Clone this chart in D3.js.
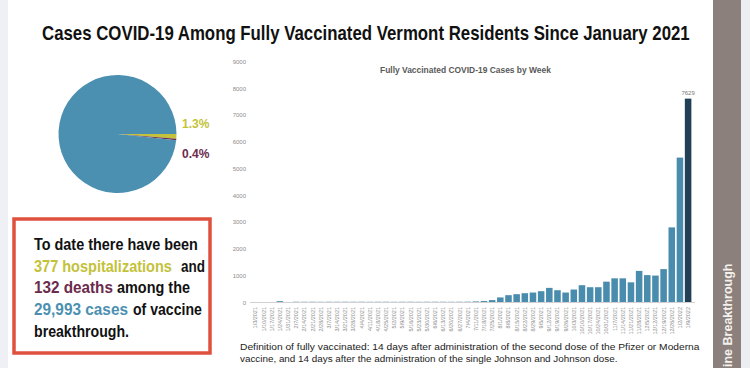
<!DOCTYPE html>
<html>
<head>
<meta charset="utf-8">
<script src="https://d3js.org/d3.v7.min.js"></script>
<style>
  body { margin: 0; background: #fff; }
  svg { display: block; font-family: "Liberation Sans", Arial, sans-serif; }
</style>
</head>
<body>
<svg id="chart" width="750" height="368"></svg>
<script>
// week starting dates (x categories)
const weeks = ["1/3/2021","1/10/2021","1/17/2021","1/24/2021","1/31/2021","2/7/2021","2/14/2021","2/21/2021",
  "2/28/2021","3/7/2021","3/14/2021","3/21/2021","3/28/2021","4/4/2021","4/11/2021","4/18/2021","4/25/2021",
  "5/2/2021","5/9/2021","5/16/2021","5/23/2021","5/30/2021","6/6/2021","6/13/2021","6/20/2021","6/27/2021",
  "7/4/2021","7/11/2021","7/18/2021","7/25/2021","8/1/2021","8/8/2021","8/15/2021","8/22/2021","8/29/2021",
  "9/5/2021","9/12/2021","9/19/2021","9/26/2021","10/3/2021","10/10/2021","10/17/2021","10/24/2021",
  "10/31/2021","11/7/2021","11/14/2021","11/21/2021","11/28/2021","12/5/2021","12/12/2021","12/19/2021",
  "12/26/2021","1/2/2022","1/9/2022"];
// weekly cases among fully vaccinated
const cases = [2, 3, 4, 50, 3, 28, 27, 28, 26, 28, 27, 28, 27, 28, 26, 27, 28, 26, 27, 28, 26, 27, 28, 27, 26, 28,
  30, 40, 55, 90, 190, 274, 311, 348, 373, 423, 547, 460, 373, 485, 647, 572, 572, 780, 905, 905, 755, 1182,
  1025, 1007, 1250, 2811, 5423, 7629];
const yTicks = [0, 1000, 2000, 3000, 4000, 5000, 6000, 7000, 8000, 9000];

// pie: hospitalizations, deaths, rest of the breakthrough cases
const pieLabels = ["hospitalizations", "deaths", "other"];
const pieValues = [377, 132, 29484];
const pieText = ["1.3%", "0.4%"];

const blue = "#4b90b0", yellow = "#c3c23a", maroon = "#6b2b4c";

const svg = d3.select("#chart");

// squeeze a text horizontally to a given width (the original uses a condensed face)
function fitText(x, y, width, str, size, weight, fill) {
  const g = svg.append("g");
  const t = g.append("text")
    .attr("font-size", size).attr("font-weight", weight).attr("fill", fill)
    .text(str);
  const w = t.node().getComputedTextLength();
  g.attr("transform", `translate(${x},${y}) scale(${width / w},1)`);
  return t;
}

// page edges and the side tab
svg.append("rect").attr("x", 0).attr("y", 0).attr("width", 8).attr("height", 368).attr("fill", "#eef0f5");
svg.append("rect").attr("x", 741).attr("y", 0).attr("width", 9).attr("height", 368).attr("fill", "#eceef2");
svg.append("rect").attr("x", 713).attr("y", 0).attr("width", 28).attr("height", 368).attr("fill", "#8b807b");
svg.append("text")
  .attr("transform", "translate(731.5,367) rotate(-90)")
  .attr("font-size", 12.5).attr("font-weight", "bold").attr("fill", "#f4f1ee")
  .text("ine Breakthrough");

// title
fitText(42, 40, 648, "Cases COVID-19 Among Fully Vaccinated Vermont Residents Since January 2021", 20, "bold", "#111");

// ---- pie
const pie = d3.pie().sort(null).startAngle(Math.PI / 2).endAngle(Math.PI / 2 + 2 * Math.PI);
const arc = d3.arc().innerRadius(0).outerRadius(59);
const pieG = svg.append("g").attr("transform", "translate(117.5,134)");
pieG.selectAll("path")
  .data(pie(pieValues))
  .enter()
  .append("path")
  .attr("d", arc)
  .attr("fill", (d, i) => [yellow, maroon, blue][i]);

svg.selectAll(".pielab")
  .data(pieText)
  .enter()
  .append("text")
  .attr("class", "pielab")
  .attr("x", 182)
  .attr("y", (d, i) => [128, 158][i])
  .attr("font-size", 12).attr("font-weight", "bold")
  .attr("fill", (d, i) => [yellow, maroon][i])
  .text(d => d);

// ---- text box
svg.append("rect")
  .attr("x", 14).attr("y", 219).attr("width", 196).attr("height", 134)
  .attr("fill", "#fff").attr("stroke", "#e0503f").attr("stroke-width", 3.5);

// [text, colour, x, width]
const boxLines = [
  [["To date there have been", "#111", 34, 164]],
  [["377 hospitalizations", yellow, 34, 138], ["and", "#111", 181, 24]],
  [["132 deaths", maroon, 34, 79], ["among the", "#111", 117, 73]],
  [["29,993 cases", blue, 34, 94], ["of vaccine", "#111", 133, 69]],
  [["breakthrough.", "#111", 34, 95]]
];
boxLines.forEach((line, i) => {
  line.forEach(p => fitText(p[2], 250 + i * 21.7, p[3], p[0], 16.5, "bold", p[1]));
});

// ---- bar chart
const x = d3.scaleBand().domain(weeks).range([250.5, 693]).padding(0.2);
const y = d3.scaleLinear().domain([0, 9000]).range([302.5, 62]);

fitText(380, 73, 171, "Fully Vaccinated COVID-19 Cases by Week", 9, "bold", "#595959");

svg.selectAll(".ytick")
  .data(yTicks)
  .enter()
  .append("text")
  .attr("class", "ytick")
  .attr("x", 246)
  .attr("y", d => y(d) + 2)
  .attr("text-anchor", "end")
  .attr("font-size", 6).attr("fill", "#8c8c8c")
  .text(d => d3.format("d")(d));

svg.selectAll(".bar")
  .data(cases)
  .enter()
  .append("rect")
  .attr("class", "bar")
  .attr("x", (d, i) => x(weeks[i]))
  .attr("y", d => y(d))
  .attr("width", x.bandwidth())
  .attr("height", d => y(0) - y(d))
  .attr("fill", (d, i) => i === cases.length - 1 ? "#213f55" : "#4a8cad");

svg.append("line")
  .attr("x1", 250).attr("x2", 695)
  .attr("y1", y(0)).attr("y2", y(0))
  .attr("stroke", "#d0d0d0").attr("stroke-width", 1);

// value label on the last bar
svg.append("text")
  .attr("x", x(weeks[53]) + x.bandwidth() / 2)
  .attr("y", y(cases[53]) - 4)
  .attr("text-anchor", "middle")
  .attr("font-size", 6).attr("fill", "#777")
  .text(cases[53]);

svg.selectAll(".xlab")
  .data(weeks)
  .enter()
  .append("text")
  .attr("class", "xlab")
  .attr("transform", d => `translate(${x(d) + x.bandwidth() / 2 + 2},307) rotate(-90)`)
  .attr("text-anchor", "end")
  .attr("font-size", 5.5).attr("fill", "#8c8c8c")
  .text(d => d);

// footnote
fitText(240, 350, 460, "Definition of fully vaccinated: 14 days after administration of the second dose of the Pfizer or Moderna", 9.5, "normal", "#222");
fitText(240, 362, 378, "vaccine, and 14 days after the administration of the single Johnson and Johnson dose.", 9.5, "normal", "#222");
</script>
</body>
</html>
